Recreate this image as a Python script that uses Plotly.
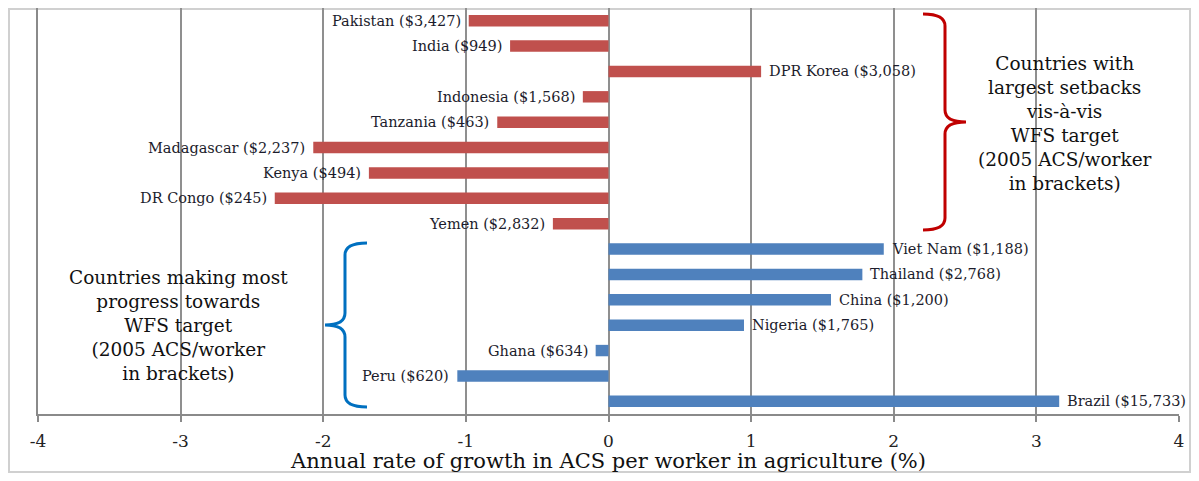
import plotly.graph_objects as go

# ---- data ----
countries = ["Pakistan", "India", "DPR Korea", "Indonesia", "Tanzania", "Madagascar",
             "Kenya", "DR Congo", "Yemen", "Viet Nam", "Thailand", "China",
             "Nigeria", "Ghana", "Peru", "Brazil"]
acs_2005 = ["$3,427", "$949", "$3,058", "$1,568", "$463", "$2,237",
            "$494", "$245", "$2,832", "$1,188", "$2,768", "$1,200",
            "$1,765", "$634", "$620", "$15,733"]
growth = [-0.98, -0.69, 1.07, -0.18, -0.78, -2.07,
          -1.68, -2.34, -0.39, 1.93, 1.78, 1.56,
          0.95, -0.09, -1.06, 3.16]
group = ["setback"] * 9 + ["progress"] * 7

tick_vals = [-4, -3, -2, -1, 0, 1, 2, 3, 4]
tick_text = ["-4", "-3", "-2", "-1", "0", "1", "2", "3", "4"]
x_title = "Annual rate of growth in ACS per worker in agriculture (%)"

right_text = ["Countries with", "largest setbacks", "vis-à-vis", "WFS target",
              "(2005 ACS/worker", "in brackets)"]
left_text = ["Countries making most", "progress towards", "WFS target",
             "(2005 ACS/worker", "in brackets)"]

group_colors = {"setback": "#C0504D", "progress": "#4F81BD"}

# ---- layout geometry ----
# the page has an 8px body margin; figure coordinates = page coordinates - 8
OFF = 8
FW, FH = 1183, 465
L, R, T, B = 30, 1171, 0, 406      # plot area in figure pixels


def px(x_page):
    return (x_page - OFF - L) / (R - L)


def py(y_page):
    return 1 - (y_page - OFF - T) / (B - T)


SERIF = "DejaVu Serif"

fig = go.Figure()
fig.add_trace(go.Bar(
    x=growth, y=countries, orientation="h",
    marker=dict(color=[group_colors[g] for g in group], line=dict(width=0)),
    hoverinfo="x+y", showlegend=False,
))

annotations = []
for c, v, a in zip(countries, growth, acs_2005):
    annotations.append(dict(
        x=v, y=c, xref="x", yref="y",
        text=f"{c} ({a})", showarrow=False,
        xanchor="left" if v > 0 else "right",
        xshift=6 if v > 0 else -6,
        font=dict(family=SERIF, size=14.5, color="#1c1c2c"),
    ))

# bracket text blocks
annotations.append(dict(
    x=px(1065), y=py(123), xref="paper", yref="paper", text="<br>".join(right_text),
    showarrow=False, xanchor="center", yanchor="middle", align="center",
    font=dict(family=SERIF, size=18.5, color="#111111"),
))
annotations.append(dict(
    x=px(178), y=py(325), xref="paper", yref="paper", text="<br>".join(left_text),
    showarrow=False, xanchor="center", yanchor="middle", align="center",
    font=dict(family=SERIF, size=18.5, color="#111111"),
))


def P(x, y):
    return f"{px(x):.5f},{py(y):.5f}"


red_brace = (f"M {P(923,14)} Q {P(945,14)} {P(945,26)} L {P(945,110)} "
             f"Q {P(945,122)} {P(966,122)} Q {P(945,122)} {P(945,134)} "
             f"L {P(945,218)} Q {P(945,230)} {P(923,230)}")
blue_brace = (f"M {P(367,243)} Q {P(345,243)} {P(345,255)} L {P(345,313)} "
              f"Q {P(345,325)} {P(325,325)} Q {P(345,325)} {P(345,337)} "
              f"L {P(345,395)} Q {P(345,407)} {P(367,407)}")

shapes = [
    dict(type="path", path=red_brace, xref="paper", yref="paper",
         line=dict(color="#C00000", width=3)),
    dict(type="path", path=blue_brace, xref="paper", yref="paper",
         line=dict(color="#0070C0", width=3)),
    # chart-area border (at the figure edge)
    dict(type="rect", xref="paper", yref="paper",
         x0=px(OFF + 1), x1=px(OFF + FW - 1), y0=py(OFF + FH - 1), y1=py(OFF + 1),
         line=dict(color="#d0d0d0", width=2), fillcolor="rgba(0,0,0,0)", layer="below"),
]

fig.update_layout(
    width=FW, height=FH,
    margin=dict(l=L, r=FW - R, t=T, b=FH - B),
    paper_bgcolor="white", plot_bgcolor="white",
    bargap=0.55,
    font=dict(family=SERIF, color="#222222"),
    annotations=annotations,
    shapes=shapes,
    xaxis=dict(
        range=[-4, 4], tickvals=tick_vals, ticktext=tick_text,
        automargin=False,
        showgrid=True, gridcolor="#8f8f8f", gridwidth=1.5,
        zeroline=False,
        showline=True, linecolor="#8a8a8a", linewidth=1.5,
        ticks="outside", ticklen=6, tickcolor="#8a8a8a", tickwidth=1.5,
        ticklabelstandoff=5,
        tickfont=dict(family=SERIF, size=17, color="#222222"),
        title=dict(text=x_title, standoff=10,
                   font=dict(family=SERIF, size=21, color="#111111")),
    ),
    yaxis=dict(
        autorange="reversed", showticklabels=False, showgrid=False,
        showline=True, linecolor="#8a8a8a", linewidth=1.5, ticks="",
        zeroline=False, automargin=False,
    ),
)

fig.write_html("out.html")
